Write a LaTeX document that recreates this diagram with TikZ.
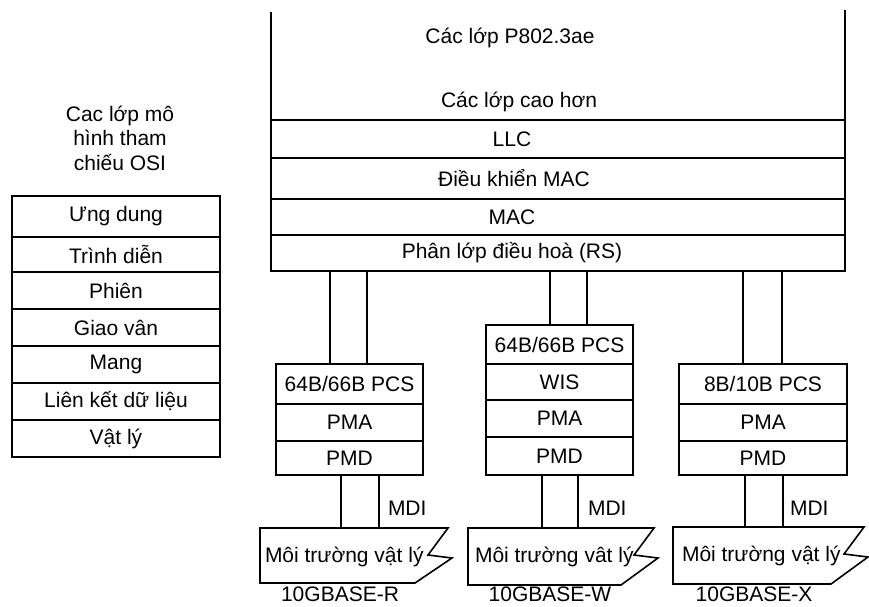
\documentclass[tikz,border=0pt]{standalone}
\usepackage{fontspec}
\setmainfont{Liberation Sans}
\begin{document}
\begin{tikzpicture}[x=1pt,y=-1pt,
  every node/.style={font=\fontsize{21}{24.5}\selectfont, inner sep=0pt, outer sep=0pt},
  boxwh/.style 2 args={draw, line width=1.6pt, rectangle, minimum width=#1, minimum height=#2, anchor=north west},
  medium/.style 2 args={rectangle, minimum width=#1, minimum height=#2, anchor=north west},
  conn/.style={line width=1.6pt},
  outline/.style={line width=1.6pt, line join=miter}]
\useasboundingbox (0,0) rectangle (869,606);
\fill[white] (0,0) rectangle (869,606);

% ---------- OSI reference stack ----------
\node[align=center] (osititle) at (120,138) {Cac lớp mô\\hình tham\\chiếu OSI};
\node[boxwh={208}{41}] (ung)   at (12,196) {Ưng dung};
\node[boxwh={208}{35}] (trinh) at (12,237) {Trình diễn};
\node[boxwh={208}{37}] (phien) at (12,272) {Phiên};
\node[boxwh={208}{37}] (giao)  at (12,309) {Giao vân};
\node[boxwh={208}{37}] (mang)  at (12,346) {Mang};
\node[boxwh={208}{37}] (lk)    at (12,383) {Liên kết dữ liệu};
\node[boxwh={208}{37}] (vl)    at (12,420) {Vật lý};

% ---------- P802.3ae stack ----------
\node[medium={574}{108}] (upper) at (271,12) {};
\draw[outline] (upper.north west) -- (upper.south west) -- (upper.south east) -- ([yshift=2pt]upper.north east);
\node (p8023) at (510,38) {Các lớp P802.3ae};
\node (caohon) at (519,102) {Các lớp cao hơn};
\node[boxwh={574}{38}, label={[xshift=-46pt]center:LLC}] (llc) at (271,120) {};
\node[boxwh={574}{41}, label={[xshift=-44pt]center:Điều khiển MAC}] (dkmac) at (271,158) {};
\node[boxwh={574}{36}, label={[xshift=-46pt]center:MAC}] (mac) at (271,199) {};
\node[boxwh={574}{36}, label={[xshift=-46pt]center:Phân lớp điều hoà (RS)}] (rs) at (271,235) {};

% ---------- 10GBASE-R column ----------
\node[boxwh={147}{40}] (pcsL) at (276,364) {64B/66B PCS};
\node[boxwh={147}{37}] (pmaL) at (276,404) {PMA};
\node[boxwh={147}{34}] (pmdL) at (276,441) {PMD};

% ---------- 10GBASE-W column ----------
\node[boxwh={147}{39}] (pcsM) at (486,325) {64B/66B PCS};
\node[boxwh={147}{36}] (wisM) at (486,364) {WIS};
\node[boxwh={147}{37}] (pmaM) at (486,400) {PMA};
\node[boxwh={147}{38}] (pmdM) at (486,437) {PMD};

% ---------- 10GBASE-X column ----------
\node[boxwh={168}{40}] (pcsX) at (679,364) {8B/10B PCS};
\node[boxwh={168}{37}] (pmaX) at (679,404) {PMA};
\node[boxwh={168}{34}] (pmdX) at (679,441) {PMD};

% ---------- connector positions ----------
\coordinate (c1) at (330,0);
\coordinate (c2) at (367,0);
\coordinate (c3) at (550,0);
\coordinate (c4) at (587,0);
\coordinate (c5) at (743,0);
\coordinate (c6) at (782,0);
\coordinate (d1) at (341,0);
\coordinate (d2) at (379,0);
\coordinate (d3) at (542,0);
\coordinate (d4) at (578,0);
\coordinate (d5) at (745,0);
\coordinate (d6) at (783,0);

\draw[conn] (c1 |- rs.south) -- (c1 |- pcsL.north);
\draw[conn] (c2 |- rs.south) -- (c2 |- pcsL.north);
\draw[conn] (c3 |- rs.south) -- (c3 |- pcsM.north);
\draw[conn] (c4 |- rs.south) -- (c4 |- pcsM.north);
\draw[conn] (c5 |- rs.south) -- (c5 |- pcsX.north);
\draw[conn] (c6 |- rs.south) -- (c6 |- pcsX.north);

% ---------- physical media ----------
\node[medium={192}{55}, label={[anchor=west, xshift=5pt, yshift=-1pt]west:Môi trường vật lý}] (medL) at (260,528) {};
\node[medium={190}{57}, label={[anchor=west, xshift=7pt, yshift=0pt]west:Môi trường vât lý}] (medM) at (468,528) {};
\node[medium={195}{57}, label={[anchor=west, xshift=9pt, yshift=0pt]west:Môi trường vật lý}] (medX) at (673,527) {};

\draw[outline] (medL.north west) -- ([xshift=-4pt]medL.north east) -- ([xshift=-24pt,yshift=-27pt]medL.north east)
  -- ([yshift=-30pt]medL.north east) -- ([xshift=-37pt]medL.south east) -- (medL.south west) -- cycle;
\draw[outline] (medM.north west) -- ([xshift=-4pt]medM.north east) -- ([xshift=-24pt,yshift=-27pt]medM.north east)
  -- ([yshift=-30pt]medM.north east) -- ([xshift=-37pt]medM.south east) -- (medM.south west) -- cycle;
\draw[outline] (medX.north west) -- ([xshift=-4pt]medX.north east) -- ([xshift=-24pt,yshift=-27pt]medX.north east)
  -- ([yshift=-30pt]medX.north east) -- ([xshift=-37pt]medX.south east) -- (medX.south west) -- cycle;

\draw[conn] (d1 |- pmdL.south) -- (d1 |- medL.north);
\draw[conn] (d2 |- pmdL.south) -- (d2 |- medL.north);
\draw[conn] (d3 |- pmdM.south) -- (d3 |- medM.north);
\draw[conn] (d4 |- pmdM.south) -- (d4 |- medM.north);
\draw[conn] (d5 |- pmdX.south) -- (d5 |- medX.north);
\draw[conn] (d6 |- pmdX.south) -- (d6 |- medX.north);

\node[anchor=west] (mdiL) at (388,508) {MDI};
\node[anchor=west] (mdiM) at (588,508) {MDI};
\node[anchor=west] (mdiX) at (790,508) {MDI};

% ---------- variant names ----------
\node[anchor=base] (nameR) at (340,601) {10GBASE-R};
\node[anchor=base] (nameW) at (550,601) {10GBASE-W};
\node[anchor=base] (nameX) at (754,601) {10GBASE-X};
\end{tikzpicture}
\end{document}
